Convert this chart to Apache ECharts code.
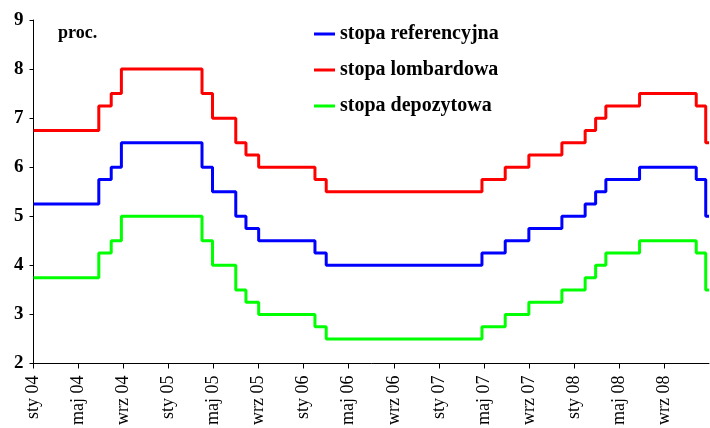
<!DOCTYPE html>
<html>
<head>
<meta charset="utf-8">
<script src="https://cdn.jsdelivr.net/npm/echarts@6/dist/echarts.min.js"></script>
<style>
  html, body { margin: 0; padding: 0; background: #fff; }
  #chart { width: 710px; height: 428px; }
</style>
</head>
<body>
<div id="chart"></div>
<script>
// dni zmian stóp NBP (ostatni punkt = koniec wykresu)
var changeDates = ['2004-01-01', '2004-06-25', '2004-07-29', '2004-08-26', '2005-03-31', '2005-04-28',
  '2005-06-30', '2005-07-28', '2005-09-01', '2006-02-01', '2006-03-01', '2007-04-26', '2007-06-28',
  '2007-09-01', '2007-11-29', '2008-02-01', '2008-02-28', '2008-03-27', '2008-06-26', '2008-11-27',
  '2008-12-23', '2009-01-01'];
var stopaReferencyjna = [5.25, 5.75, 6.0, 6.5, 6.0, 5.5, 5.0, 4.75, 4.5, 4.25, 4.0, 4.25, 4.5, 4.75, 5.0, 5.25, 5.5, 5.75, 6.0, 5.75, 5.0, 5.0];
var stopaLombardowa = [6.75, 7.25, 7.5, 8.0, 7.5, 7.0, 6.5, 6.25, 6.0, 5.75, 5.5, 5.75, 6.0, 6.25, 6.5, 6.75, 7.0, 7.25, 7.5, 7.25, 6.5, 6.5];
var stopaDepozytowa = [3.75, 4.25, 4.5, 5.0, 4.5, 4.0, 3.5, 3.25, 3.0, 2.75, 2.5, 2.75, 3.0, 3.25, 3.5, 3.75, 4.0, 4.25, 4.5, 4.25, 3.5, 3.5];
var tickLabels = ['sty 04', 'maj 04', 'wrz 04', 'sty 05', 'maj 05', 'wrz 05', 'sty 06', 'maj 06', 'wrz 06',
  'sty 07', 'maj 07', 'wrz 07', 'sty 08', 'maj 08', 'wrz 08'];

// data -> liczba miesięcy od stycznia 2004
function toMonths (s) {
  var p = s.split('-');
  var y = +p[0], m = +p[1], d = +p[2];
  var dim = new Date(y, m, 0).getDate();
  return (y - 2004) * 12 + (m - 1) + (d - 1) / dim;
}
function pairs (vals) {
  return changeDates.map(function (d, i) { return [toMonths(d), vals[i]]; });
}
var tickPos = tickLabels.map(function (t, i) { return i * 4; });

var serif = 'Liberation Serif';
var chart = echarts.init(document.getElementById('chart'));
chart.setOption({
  animation: false,
  grid: { left: 33.5, right: 1, top: 20, bottom: 63 },
  legend: {
    orient: 'vertical',
    left: 309,
    top: 19,
    itemWidth: 21,
    itemHeight: 3,
    itemGap: 16,
    icon: 'rect',
    textStyle: { fontFamily: serif, fontWeight: 'bold', fontSize: 20, color: '#000' },
    data: ['stopa referencyjna', 'stopa lombardowa', 'stopa depozytowa']
  },
  graphic: [{
    type: 'text', left: 58, top: 24,
    style: { text: 'proc.', fontFamily: serif, fontWeight: 'bold', fontSize: 18, fill: '#000' }
  }],
  xAxis: {
    type: 'value',
    min: 0,
    max: 60,
    interval: 4,
    splitLine: { show: false },
    axisLine: { lineStyle: { color: '#000', width: 1 } },
    axisTick: { customValues: tickPos, length: 5, lineStyle: { color: '#000' } },
    axisLabel: {
      customValues: tickPos,
      rotate: 90,
      margin: 12,
      fontFamily: serif,
      fontSize: 18,
      color: '#000',
      formatter: function (v) { return tickLabels[Math.round(v / 4)] || ''; }
    }
  },
  yAxis: {
    type: 'value',
    min: 2,
    max: 9,
    interval: 1,
    splitLine: { show: false },
    axisLine: { show: true, lineStyle: { color: '#000', width: 1 } },
    axisTick: { show: true, length: 4, lineStyle: { color: '#000' } },
    axisLabel: { margin: 10, fontFamily: serif, fontWeight: 'bold', fontSize: 19, color: '#000' }
  },
  series: [
    { name: 'stopa referencyjna', type: 'line', step: 'end', symbol: 'none', data: pairs(stopaReferencyjna),
      itemStyle: { color: '#0000ff' }, lineStyle: { color: '#0000ff', width: 3 } },
    { name: 'stopa lombardowa', type: 'line', step: 'end', symbol: 'none', data: pairs(stopaLombardowa),
      itemStyle: { color: '#ff0000' }, lineStyle: { color: '#ff0000', width: 3 } },
    { name: 'stopa depozytowa', type: 'line', step: 'end', symbol: 'none', data: pairs(stopaDepozytowa),
      itemStyle: { color: '#00ff00' }, lineStyle: { color: '#00ff00', width: 3 } }
  ]
});
</script>
</body>
</html>
